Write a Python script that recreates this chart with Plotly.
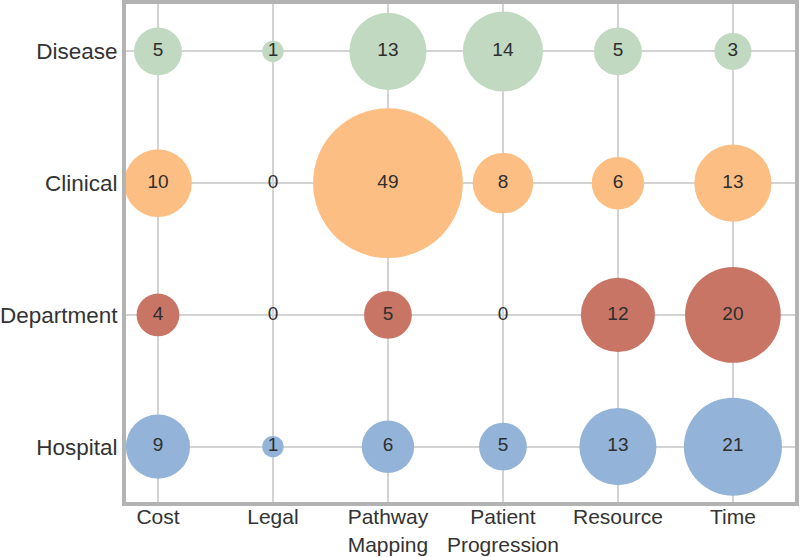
import plotly.graph_objects as go

categories = ["Cost", "Legal", "Pathway<br>Mapping", "Patient<br>Progression", "Resource", "Time"]
rows = ["Hospital", "Department", "Clinical", "Disease"]
values = {
    "Disease":    [5, 1, 13, 14, 5, 3],
    "Clinical":   [10, 0, 49, 8, 6, 13],
    "Department": [4, 0, 5, 0, 12, 20],
    "Hospital":   [9, 1, 6, 5, 13, 21],
}
colors = {
    "Disease": "rgb(192,217,192)",
    "Clinical": "rgb(253,190,132)",
    "Department": "rgb(200,117,102)",
    "Hospital": "rgb(147,180,216)",
}

FONT = "Liberation Sans, Arial, sans-serif"

fig = go.Figure()
for r_i, row in enumerate(rows):
    vals = values[row]
    fig.add_trace(go.Scatter(
        x=list(range(len(categories))),
        y=[r_i] * len(categories),
        mode="markers+text",
        text=[str(v) for v in vals],
        textposition="middle center",
        textfont=dict(size=19, color="#2e2e2e", family=FONT),
        marker=dict(size=vals, sizemode="area", sizeref=2 / 458.0,
                    color=colors[row], line=dict(width=0), opacity=1),
        hoverinfo="skip",
        showlegend=False,
        cliponaxis=False,
    ))

fig.update_layout(
    width=800, height=557,
    margin=dict(l=126, r=5, t=4, b=55),
    paper_bgcolor="white", plot_bgcolor="white",
    font=dict(family=FONT, color="#333333"),
    xaxis=dict(
        range=[-0.278, 5.54], tickvals=list(range(len(categories))), ticktext=categories,
        showgrid=True, gridcolor="#d3d3d3", gridwidth=1.5, zeroline=False,
        showline=True, linecolor="#b3b3b3", linewidth=4, mirror=True,
        tickfont=dict(size=21, color="#333333"), ticks="", automargin=False,
        ticklabelstandoff=-7,
    ),
    yaxis=dict(
        range=[-0.42, 3.36], tickvals=list(range(len(rows))), ticktext=rows,
        showgrid=True, gridcolor="#d3d3d3", gridwidth=1.5, zeroline=False,
        showline=True, linecolor="#b3b3b3", linewidth=4, mirror=True,
        tickfont=dict(size=22.5, color="#333333"), ticks="", automargin=False,
    ),
)

fig.write_html("out.html", config={"displayModeBar": False},
               post_script="document.body.style.margin='0';document.body.style.padding='0';")
